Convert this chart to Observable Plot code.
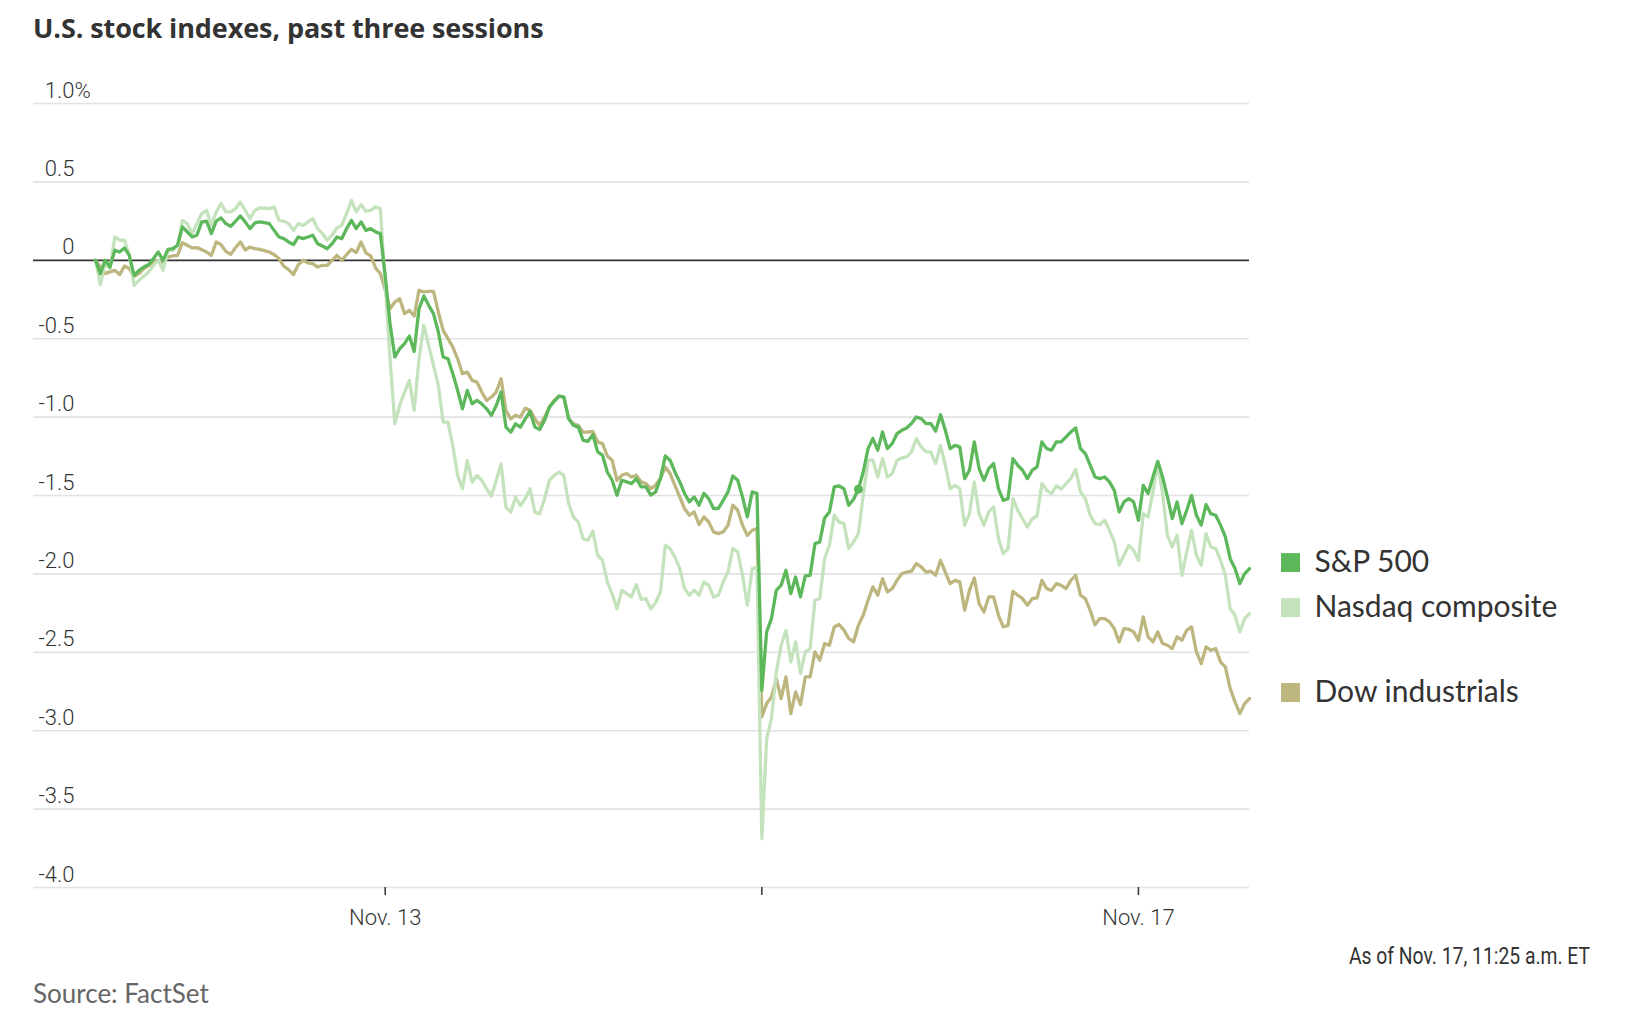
<!DOCTYPE html>
<html>
<head>
<meta charset="utf-8">
<script src="https://cdn.jsdelivr.net/npm/d3@7"></script>
<script src="https://cdn.jsdelivr.net/npm/@observablehq/plot@0.6"></script>
<style>
  html, body { margin: 0; padding: 0; background: #fff; }
  body { width: 1650px; height: 1033px; position: relative; overflow: hidden; }
  #title { position: absolute; left: 33px; top: 12px; font: 700 27px "Open Sans", sans-serif; color: #333; line-height: 1.2; white-space: nowrap; letter-spacing: -0.1px; }
  #chart { position: absolute; left: 0; top: 60px; }
  #asof { position: absolute; right: 60px; top: 943px; font: 23px Roboto, sans-serif; color: #333; line-height: 1.2; white-space: nowrap; transform: scaleX(0.84); transform-origin: right center; }
  #source { position: absolute; left: 33px; top: 978px; font: 26px Lato, sans-serif; color: #666; line-height: 1.2; white-space: nowrap; }
</style>
</head>
<body>
<div id="title">U.S. stock indexes, past three sessions</div>
<div id="chart"></div>
<div id="asof">As of Nov. 17, 11:25 a.m. ET</div>
<div id="source">Source: FactSet</div>
<script>
// 5-minute intervals, index 0 = first point shown (Nov. 12), 60 = Nov. 13 open, 138 = Nov. 14 open, 216 = Nov. 17 open
const spx = [
  0, -0.085, 0, -0.043, 0.064, 0.053, 0.079, 0.032, -0.096, -0.064,
  -0.043, -0.028, 0.011, 0.053, 0, 0.07, 0.074, 0.096, 0.213, 0.181,
  0.149, 0.16, 0.245, 0.249, 0.17, 0.249, 0.27, 0.234, 0.217, 0.249,
  0.283, 0.245, 0.202, 0.238, 0.245, 0.24, 0.234, 0.191, 0.149, 0.138,
  0.117, 0.1, 0.149, 0.138, 0.149, 0.16, 0.106, 0.091, 0.074, 0.106,
  0.149, 0.138, 0.202, 0.255, 0.202, 0.245, 0.191, 0.202, 0.181, 0.17,
  -0.1,
  -0.404, -0.617, -0.564, -0.532, -0.483, -0.581, -0.309, -0.228, -0.287, -0.34,
  -0.457, -0.617, -0.628, -0.723, -0.83, -0.947, -0.83, -0.915, -0.894, -0.915,
  -0.947, -0.989, -0.926, -0.84, -1.064, -1.096, -1.043, -1.064, -1.011, -0.964,
  -1.064, -1.079, -1.021, -0.936, -0.9, -0.866, -0.872, -1.011, -1.053, -1.064,
  -1.149,
  -1.154, -1.112, -1.222, -1.243, -1.35, -1.403, -1.498, -1.403, -1.413, -1.424,
  -1.392, -1.445, -1.445, -1.498, -1.477, -1.392, -1.248, -1.275, -1.35, -1.413,
  -1.487, -1.541, -1.509, -1.562, -1.487, -1.52, -1.583, -1.583, -1.531, -1.477,
  -1.375, -1.403, -1.509, -1.637, -1.477, -1.487,
  -2.742,
  -2.37, -2.285, -2.105, -2.072, -1.977, -2.126, -2.02, -2.147, -2.013, -2.009,
  -1.807, -1.796, -1.643, -1.605, -1.445, -1.439, -1.456, -1.562, -1.524, -1.46,
  -1.35, -1.201, -1.137, -1.211, -1.095, -1.201, -1.169, -1.105, -1.084, -1.069,
  -1.041, -0.999, -1.01, -1.041, -1.041, -1.09, -0.984, -1.084, -1.201, -1.18,
  -1.19,
  -1.392, -1.339, -1.158, -1.328, -1.403, -1.328, -1.296, -1.456, -1.531, -1.52,
  -1.265, -1.307, -1.339, -1.392, -1.339, -1.318, -1.158, -1.201, -1.211, -1.158,
  -1.158, -1.126, -1.095, -1.069, -1.201, -1.233, -1.307, -1.382, -1.392, -1.382,
  -1.413, -1.467, -1.605, -1.541, -1.52, -1.541, -1.658,
  -1.435, -1.488, -1.382, -1.282, -1.382, -1.509, -1.647, -1.541, -1.679, -1.594,
  -1.499, -1.626, -1.689, -1.558, -1.616, -1.626, -1.689, -1.764, -1.903, -1.966,
  -2.062, -1.998, -1.966
];
const nasdaq = [
  0, -0.155, -0.021, -0.053, 0.149, 0.128, 0.128, 0.032, -0.16, -0.128,
  -0.1, -0.074, -0.032, 0, -0.064, 0.064, 0.064, 0.096, 0.255, 0.234,
  0.17, 0.234, 0.298, 0.319, 0.223, 0.309, 0.362, 0.309, 0.309, 0.33,
  0.372, 0.319, 0.266, 0.319, 0.334, 0.332, 0.33, 0.34, 0.255, 0.249,
  0.234, 0.191, 0.234, 0.223, 0.245, 0.266, 0.202, 0.17, 0.128, 0.16,
  0.206, 0.223, 0.298, 0.383, 0.309, 0.355, 0.313, 0.319, 0.34, 0.33,
  -0.15,
  -0.628, -1.043, -0.926, -0.84, -0.766, -0.957, -0.628, -0.415, -0.543, -0.67,
  -0.798, -1.032, -1.032, -1.181, -1.372, -1.457, -1.277, -1.415, -1.372, -1.404,
  -1.457, -1.504, -1.404, -1.298, -1.574, -1.606, -1.511, -1.564, -1.521, -1.457,
  -1.606, -1.617, -1.521, -1.404, -1.372, -1.351, -1.372, -1.553, -1.638, -1.67,
  -1.777,
  -1.786, -1.728, -1.881, -1.913, -2.052, -2.126, -2.222, -2.104, -2.126, -2.147,
  -2.068, -2.162, -2.158, -2.222, -2.184, -2.115, -1.818, -1.839, -1.892, -1.966,
  -2.094, -2.136, -2.104, -2.136, -2.052, -2.073, -2.147, -2.136, -2.052, -1.987,
  -1.839, -1.86, -2.009, -2.2, -1.966, -1.956,
  -3.688,
  -3.05, -2.923, -2.626, -2.455, -2.36, -2.562, -2.434, -2.636, -2.498, -2.477,
  -2.168, -2.158, -1.902, -1.817, -1.626, -1.669, -1.679, -1.839, -1.796, -1.743,
  -1.499, -1.275, -1.275, -1.382, -1.265, -1.382, -1.36, -1.275, -1.26, -1.254,
  -1.222, -1.137, -1.19, -1.222, -1.222, -1.297, -1.18, -1.307, -1.456, -1.435,
  -1.456,
  -1.69, -1.616, -1.414, -1.616, -1.69, -1.605, -1.573, -1.775, -1.871, -1.839,
  -1.52, -1.594, -1.648, -1.701, -1.648, -1.631, -1.424, -1.467, -1.488, -1.439,
  -1.46, -1.424, -1.392, -1.333, -1.477, -1.52, -1.626, -1.679, -1.686, -1.658,
  -1.722, -1.796, -1.945, -1.882, -1.818, -1.85, -1.914,
  -1.616, -1.637, -1.477, -1.296, -1.488, -1.754, -1.828, -1.754, -2.009, -1.86,
  -1.722, -1.881, -1.945, -1.743, -1.828, -1.839, -1.914, -2.009, -2.222, -2.264,
  -2.37, -2.285, -2.253
];
const dow = [
  0, -0.043, -0.085, -0.074, -0.064, -0.091, -0.036, -0.053, -0.102, -0.085,
  -0.053, -0.032, -0.011, 0, -0.015, 0.021, 0.028, 0.032, 0.113, 0.096,
  0.079, 0.081, 0.068, 0.053, 0.032, 0.117, 0.1, 0.057, 0.038, 0.081,
  0.117, 0.066, 0.085, 0.074, 0.07, 0.062, 0.053, 0.036, 0.011, -0.038,
  -0.06, -0.091, -0.028, 0, -0.017, -0.021, -0.043, -0.032, -0.032, 0,
  0.032, 0, 0.036, 0.07, 0.049, 0.117, 0.047, 0.028, -0.049, -0.085,
  -0.19,
  -0.309, -0.266, -0.245, -0.34, -0.319, -0.355, -0.191, -0.202, -0.198, -0.198,
  -0.33, -0.447, -0.5, -0.553, -0.628, -0.723, -0.713, -0.766, -0.777, -0.84,
  -0.894, -0.872, -0.84, -0.755, -0.957, -1.011, -0.989, -1.0, -0.943, -0.957,
  -1.011, -1.053, -1.0, -0.936, -0.894, -0.866, -0.872, -1.011, -1.043, -1.053,
  -1.096,
  -1.095, -1.091, -1.158, -1.169, -1.248, -1.275, -1.403, -1.371, -1.36, -1.382,
  -1.371, -1.413, -1.424, -1.456, -1.435, -1.392, -1.318, -1.36, -1.435, -1.509,
  -1.584, -1.626, -1.605, -1.686, -1.637, -1.669, -1.732, -1.743, -1.732, -1.69,
  -1.562, -1.594, -1.69, -1.754, -1.722, -1.711,
  -2.912,
  -2.827, -2.785, -2.668, -2.795, -2.657, -2.891, -2.753, -2.834, -2.657, -2.657,
  -2.498, -2.551, -2.445, -2.455, -2.338, -2.323, -2.359, -2.412, -2.434, -2.328,
  -2.264, -2.168, -2.083, -2.136, -2.03, -2.115, -2.094, -2.041, -1.998, -1.988,
  -1.983, -1.934, -1.955, -1.988, -1.983, -2.009, -1.913, -1.988, -2.062, -2.041,
  -2.051,
  -2.232, -2.105, -2.026, -2.19, -2.243, -2.147, -2.147, -2.264, -2.338, -2.328,
  -2.111, -2.136, -2.158, -2.2, -2.158, -2.153, -2.041, -2.094, -2.105, -2.062,
  -2.073, -2.094, -2.041, -2.009, -2.136, -2.158, -2.232, -2.324, -2.285, -2.285,
  -2.306, -2.349, -2.434, -2.349, -2.353, -2.37, -2.424,
  -2.274, -2.402, -2.434, -2.37, -2.444, -2.455, -2.476, -2.402, -2.423, -2.359,
  -2.338, -2.498, -2.572, -2.466, -2.487, -2.476, -2.561, -2.593, -2.731, -2.816,
  -2.891, -2.827, -2.795
];

const seriesNames = ["S&P 500", "Nasdaq composite", "Dow industrials"];
const seriesColors = ["#5cb85a", "#c4e3bd", "#bdb67f"];
const yTicks = [1, 0.5, 0, -0.5, -1, -1.5, -2, -2.5, -3, -3.5, -4];
const yTickLabels = ["1.0", "0.5", "0", "-0.5", "-1.0", "-1.5", "-2.0", "-2.5", "-3.0", "-3.5", "-4.0"];
const xTicks = [60, 138, 216];
const xTickLabels = ["Nov. 13", "", "Nov. 17"];
const markedPoint = [158]; // highlighted S&P point

const seriesValues = [spx, nasdaq, dow];
const rows = seriesNames.map((name, k) => seriesValues[k].map((v, i) => ({i, v, name})));
const lastRows = rows.map(r => r[r.length - 1]);
const marked = markedPoint.map(i => rows[0][i]);

const color = {domain: seriesNames, range: seriesColors};

const chart = Plot.plot({
  width: 1650,
  height: 880,
  marginLeft: 95,
  marginRight: 401,
  marginTop: 43,
  marginBottom: 53,
  x: {domain: [0, spx.length - 1], axis: null},
  y: {domain: [-4, 1], axis: null},
  color,
  style: {fontFamily: "Roboto, sans-serif", fontSize: "22px", color: "#333", background: "#fff", overflow: "visible"},
  marks: [
    Plot.ruleY(yTicks.filter(d => d !== 0), {stroke: "#e2e2e2", strokeWidth: 1.6, insetLeft: -62}),
    Plot.ruleY([0], {stroke: "#333", strokeWidth: 1.8, insetLeft: -62}),
    Plot.axisY(yTicks, {anchor: "left", tickSize: 0, tickPadding: 0, dx: -21, dy: -13,
      tickFormat: d => yTickLabels[yTicks.indexOf(d)], fill: "#333", fontSize: 22, fontWeight: 300, label: null}),
    Plot.text([yTicks[0]], {y: d => d, text: () => "%", frameAnchor: "left", textAnchor: "start",
      dx: -21, dy: -13, fill: "#333", fontSize: 22, fontWeight: 300}),
    Plot.axisX(xTicks, {anchor: "bottom", tickSize: 8, tickPadding: 14, stroke: "#333", strokeWidth: 1.5,
      tickFormat: d => xTickLabels[xTicks.indexOf(d)], fill: "#333", fontSize: 22, fontWeight: 300, label: null}),
    Plot.lineY(rows[2], {x: "i", y: "v", stroke: "name", strokeWidth: 3.3}),
    Plot.lineY(rows[1], {x: "i", y: "v", stroke: "name", strokeWidth: 3.3}),
    Plot.lineY(rows[0], {x: "i", y: "v", stroke: "name", strokeWidth: 3.3}),
    Plot.dot(marked, {x: "i", y: "v", fill: "name", r: 4.5}),
    Plot.dot(lastRows, {x: "i", y: "v", fill: "name", symbol: "square", r: 10.7, dx: 41, dy: -6}),
    Plot.text(lastRows, {x: "i", y: "v", text: "name", dx: 65, dy: -6, textAnchor: "start",
      fill: "#333", fontSize: 30, fontFamily: "Lato, sans-serif"})
  ]
});
document.getElementById("chart").appendChild(chart);
</script>
</body>
</html>
